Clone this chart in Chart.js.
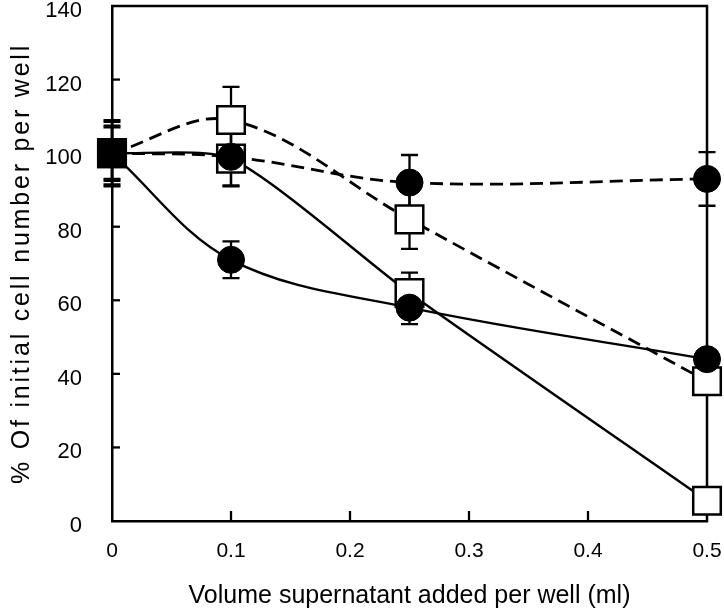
<!DOCTYPE html>
<html><head><meta charset="utf-8">
<script src="https://cdn.jsdelivr.net/npm/chart.js@4.4.0/dist/chart.umd.min.js"></script>
<style>html,body{margin:0;padding:0;background:#fff}</style>
</head><body>
<canvas id="c" width="724" height="611" style="display:block"></canvas>
<script>
const volumes = [0, 0.1, 0.25, 0.5];
const solidCircle = [100, 71, 58, 44];
const solidCircleErr = [7, 5, 4.5, 2];
const dashedCircle = [100, 99, 92, 93];
const dashedCircleErr = [7.5, 8, 7.5, 7.3];
const solidSquare = [100, 98.5, 62, 5.5];
const solidSquareErr = [8.5, 7.3, 5.5, 2];
const dashedSquare = [100, 109, 82, 38];
const dashedSquareErr = [9, 9, 8, 3];
const yTickValues = [0, 20, 40, 60, 80, 100, 120, 140];
const xTickValues = [0, 0.1, 0.2, 0.3, 0.4, 0.5];
const xTitle = 'Volume supernatant added per well (ml)';
const yTitle = '% Of initial cell number per well';

const FONT = '"Liberation Sans", Arial, Helvetica, sans-serif';

function pts(vals) { return vals.map((v, i) => ({x: volumes[i], y: v})); }

function ds(vals, errs, filled, dashed, tension) {
  return {
    data: pts(vals),
    errors: errs,
    borderColor: '#000',
    borderWidth: dashed ? 2.8 : 2.4,
    borderDash: dashed ? [13, 7] : [],
    tension: tension,
    fill: false,
    clip: false,
    pointStyle: filled ? 'circle' : 'rect',
    pointRadius: filled ? 13.5 : 19.5,
    pointBorderWidth: filled ? 1 : 2.5,
    pointBackgroundColor: filled ? '#000' : vals.map((v, i) => i === 0 ? '#000' : '#fff'),
    pointBorderColor: '#000'
  };
}

const extras = {
  id: 'extras',
  beforeDatasetsDraw(chart) {
    const ctx = chart.ctx, xs = chart.scales.x, ys = chart.scales.y, a = chart.chartArea;
    ctx.save();
    ctx.strokeStyle = '#000';
    ctx.setLineDash([]);
    ctx.lineWidth = 2.5;
    ctx.beginPath();
    ctx.moveTo(a.left - 1, a.top);
    ctx.lineTo(a.right, a.top);
    ctx.lineTo(a.right, a.bottom + 1);
    ctx.stroke();
    ctx.lineWidth = 2.3;
    yTickValues.forEach(v => {
      if (v === 0 || v === 140) return;
      const y = ys.getPixelForValue(v);
      ctx.beginPath(); ctx.moveTo(a.left, y); ctx.lineTo(a.left + 8, y); ctx.stroke();
    });
    xTickValues.forEach(v => {
      if (v === 0 || v === 0.5) return;
      const x = xs.getPixelForValue(v);
      ctx.beginPath(); ctx.moveTo(x, a.bottom); ctx.lineTo(x, a.bottom - 10); ctx.stroke();
    });
    chart.data.datasets.forEach(d => {
      d.data.forEach((p, i) => {
        const e = d.errors[i];
        const x = xs.getPixelForValue(p.x);
        const y1 = ys.getPixelForValue(p.y + e), y2 = ys.getPixelForValue(p.y - e);
        ctx.beginPath();
        ctx.moveTo(x, y1); ctx.lineTo(x, y2);
        ctx.moveTo(x - 8.5, y1); ctx.lineTo(x + 8.5, y1);
        ctx.moveTo(x - 8.5, y2); ctx.lineTo(x + 8.5, y2);
        ctx.stroke();
      });
    });
    ctx.restore();
  }
};

new Chart(document.getElementById('c'), {
  type: 'line',
  data: {
    datasets: [
      ds(solidCircle, solidCircleErr, true, false, 0.35),
      ds(dashedCircle, dashedCircleErr, true, true, 0.35),
      ds(solidSquare, solidSquareErr, false, false, 0.22),
      ds(dashedSquare, dashedSquareErr, false, true, 0.35)
    ]
  },
  options: {
    responsive: false,
    animation: false,
    events: [],
    layout: {autoPadding: false, padding: {top: 6, right: 17, left: 0, bottom: 0}},
    plugins: {legend: {display: false}, tooltip: {enabled: false}},
    scales: {
      x: {
        type: 'linear', min: 0, max: 0.5,
        afterBuildTicks: s => { s.ticks = xTickValues.map(v => ({value: v})); },
        afterFit: s => { s.height = 90; s.paddingLeft = 0; s.paddingRight = 0; },
        grid: {display: false, drawTicks: false},
        border: {display: true, color: '#000', width: 2.5},
        ticks: {
          color: '#000', padding: 18, maxRotation: 0, autoSkip: false,
          font: {family: FONT, size: 21},
          callback: v => v === 0 ? '0' : v.toFixed(1)
        },
        title: {display: true, text: xTitle, color: '#000', font: {family: FONT, size: 25}, padding: {top: 0, bottom: 0}}
      },
      y: {
        type: 'linear', min: 0, max: 140,
        afterBuildTicks: s => { s.ticks = yTickValues.map(v => ({value: v})); },
        afterFit: s => {
          s.width = 112; s.paddingTop = 0; s.paddingBottom = 0;
          if (!s._lsPatched) {
            s._lsPatched = true;
            const orig = s.drawTitle.bind(s);
            s.drawTitle = function () {
              const ctx = s.ctx;
              ctx.save();
              ctx.letterSpacing = '2.8px';
              orig();
              ctx.restore();
            };
          }
        },
        grid: {display: false, drawTicks: false},
        border: {display: true, color: '#000', width: 2.5},
        ticks: {
          color: '#000', padding: 30, labelOffset: 5,
          font: {family: FONT, size: 22},
          callback: v => String(v)
        },
        title: {display: true, text: yTitle, color: '#000', font: {family: FONT, size: 25}, padding: {top: 7, bottom: 7}}
      }
    }
  },
  plugins: [extras]
});
</script>
</body></html>
